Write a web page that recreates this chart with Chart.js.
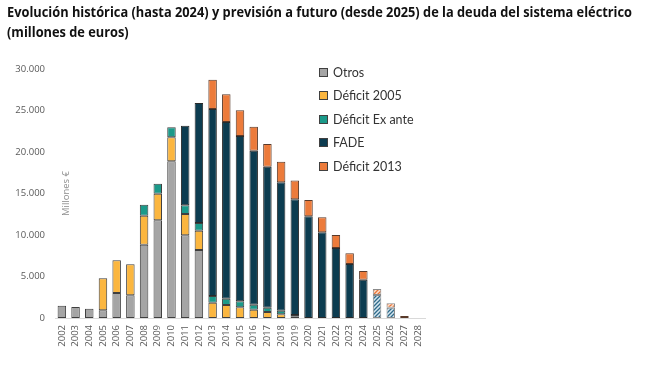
<!DOCTYPE html>
<html><head><meta charset="utf-8">
<script src="https://cdn.jsdelivr.net/npm/chart.js@4"></script>
<style>
html,body{margin:0;padding:0;background:#fff;}
#wrap{position:relative;width:659px;height:366px;overflow:hidden;background:#fff;}
#title{position:absolute;left:7px;top:2px;font-family:"Open Sans";font-weight:700;font-size:14px;line-height:20px;color:#111;transform-origin:0 0;transform:scaleX(0.915);white-space:nowrap;}
canvas{position:absolute;left:0;top:0;}
#legend{position:absolute;left:319px;top:0;font-family:Lato;font-size:12.5px;color:#333;}
.item{position:absolute;left:0;height:20px;display:flex;align-items:center;white-space:nowrap;}
.box{width:7px;height:7px;border:1px solid #404040;margin-right:5px;}
</style></head>
<body>
<div id="wrap">
<canvas id="c" width="659" height="366"></canvas>
<div id="title">Evolución histórica (hasta 2024) y previsión a futuro (desde 2025) de la deuda del sistema eléctrico<br>(millones de euros)</div>
<div id="legend"></div>
</div>
<script>
const years = ['2002','2003','2004','2005','2006','2007','2008','2009','2010','2011','2012','2013','2014','2015','2016','2017','2018','2019','2020','2021','2022','2023','2024','2025','2026','2027','2028'];
const otros         = [1480,1330,1120,930,3000,2730,8830,11770,18900,9960,8190,0,0,0,0,0,0,0,0,0,0,0,0,0,0,0,0];
const deficit2005   = [0,0,0,3850,3950,3740,3500,3210,2870,2570,2330,1850,1570,1290,1000,720,440,150,0,0,0,0,0,0,0,0,0];
const deficitExAnte = [0,0,0,0,0,0,1320,1200,1200,1050,930,800,760,720,600,520,440,200,0,0,0,0,0,0,0,0,0];
const fade          = [0,0,0,0,0,0,0,0,0,9590,14450,22530,21280,19920,18560,16990,15470,13950,12250,10330,8430,6510,4620,2770,1240,0,0];
const deficit2013   = [0,0,0,0,0,0,0,0,0,0,0,3530,3340,3090,2890,2730,2480,2270,1970,1800,1570,1280,1040,720,530,250,0];
const hatchedYears  = ['2025','2026'];
const yTicks        = [0,5000,10000,15000,20000,25000,30000];

function hatch(bg, fg){
  const c=document.createElement('canvas'); c.width=c.height=4;
  const x=c.getContext('2d');
  x.fillStyle=bg; x.fillRect(0,0,4,4);
  x.strokeStyle=fg; x.lineWidth=1.3;
  x.beginPath();
  x.moveTo(-1,1); x.lineTo(1,-1);
  x.moveTo(0,4); x.lineTo(4,0);
  x.moveTo(3,5); x.lineTo(5,3);
  x.stroke();
  return x.createPattern(c,'repeat');
}

const series = [
  {label:'Otros', data:otros, color:'#a5a5a5', border:'#3f3f3f', hatch:null},
  {label:'Déficit 2005', data:deficit2005, color:'#fbb63f', border:'#3f3f3f', hatch:null},
  {label:'Déficit Ex ante', data:deficitExAnte, color:'#1b9a8a', border:'#3f3f3f', hatch:null},
  {label:'FADE', data:fade, color:'#0c3c50', border:'#2a2a2a', hatch:hatch('#d6e6ef','#2f6b8a')},
  {label:'Déficit 2013', data:deficit2013, color:'#ec7b3b', border:'#5a3a2a', hatch:hatch('#fde0cc','#e8763a')}
];

const datasets = series.map(s => ({
  label: s.label,
  data: s.data.map(v => v === 0 ? null : v),
  backgroundColor: ctx => (s.hatch && hatchedYears.includes(years[ctx.dataIndex])) ? s.hatch : s.color,
  borderColor: ctx => hatchedYears.includes(years[ctx.dataIndex]) ? '#8a8a8a' : s.border,
  borderWidth: 1,
  borderSkipped: false,
  barPercentage: 0.62,
  categoryPercentage: 1.0
}));

const yTitle = {
  id:'yTitle',
  afterDraw(chart){
    const {ctx, chartArea} = chart;
    ctx.save();
    ctx.translate(chartArea.left + 11, (chartArea.top + chartArea.bottom)/2);
    ctx.rotate(-Math.PI/2);
    ctx.font = '9.5px "Open Sans"';
    ctx.fillStyle = '#8c8c8c';
    ctx.textAlign = 'center';
    ctx.textBaseline = 'middle';
    ctx.fillText('Millones €', 0, 0);
    ctx.restore();
  }
};

new Chart(document.getElementById('c'), {
  type: 'bar',
  data: {labels: years, datasets},
  options: {
    responsive: false,
    animation: false,
    layout: {padding: {top: 69, right: 234, left: 0, bottom: 0}},
    plugins: {legend: {display: false}, tooltip: {enabled: false}, title: {display: false}},
    scales: {
      x: {
        stacked: true,
        grid: {display: false, drawTicks: false},
        border: {display: true, color: '#d9d9d9', width: 1},
        ticks: {autoSkip: false, minRotation: 90, maxRotation: 90, padding: 7, color: '#595959', font: {family: 'Open Sans', size: 9.5}},
        afterFit: s => { s.height = 48; }
      },
      y: {
        stacked: true,
        min: 0, max: 30000,
        afterBuildTicks: s => { s.ticks = yTicks.map(v => ({value: v})); },
        grid: {display: false, drawTicks: false},
        border: {display: false},
        ticks: {padding: 10, color: '#595959', font: {family: 'Open Sans', size: 9.5}, callback: v => v.toLocaleString('de-DE')},
        afterFit: s => { s.width = 55; }
      }
    }
  },
  plugins: [yTitle]
});

const lg = document.getElementById('legend');
series.forEach((s, i) => {
  const it = document.createElement('div');
  it.className = 'item';
  it.style.top = (62 + i * 23.5) + 'px';
  const b = document.createElement('span'); b.className = 'box'; b.style.background = s.color;
  const t = document.createElement('span'); t.textContent = s.label;
  it.appendChild(b); it.appendChild(t);
  lg.appendChild(it);
});
</script>
</body></html>
